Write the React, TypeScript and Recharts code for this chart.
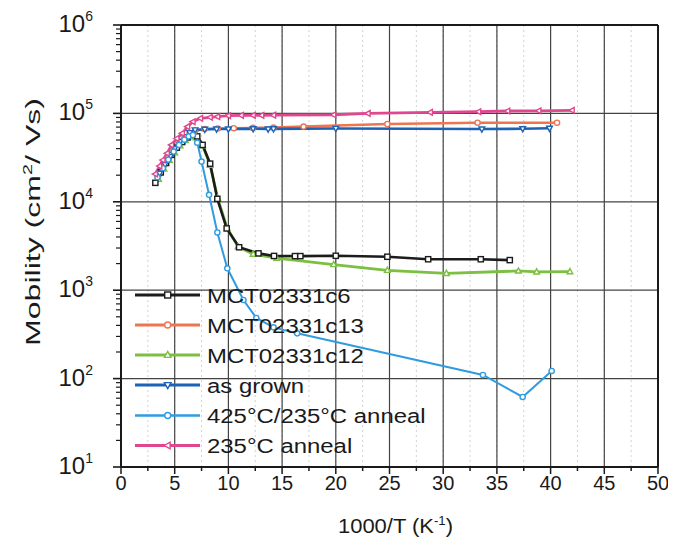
import React from 'react';
import { LineChart, Line, XAxis, YAxis, CartesianGrid, ReferenceLine, Legend } from 'recharts';

type Pt = { x: number; y: number };
const toPts = (rows: number[][]): Pt[] => rows.map(([x, y]) => ({ x, y }));

// Hall mobility vs inverse temperature, one array per sample
const mct02331c6 = toPts([
  [3.2, 16400], [3.7, 21500], [4.2, 27500], [4.7, 34000], [5.2, 41000], [5.7, 47500],
  [6.2, 53500], [6.7, 57500], [7.1, 55000], [7.6, 44000], [8.3, 27000], [8.97, 10800],
  [9.84, 5000], [11.0, 3060], [12.8, 2610], [14.25, 2440], [16.2, 2430], [16.7, 2430],
  [20.0, 2450], [24.8, 2390], [28.6, 2240], [33.5, 2240], [36.2, 2190],
]);

const mct02331c13 = toPts([
  [3.4, 19500], [3.9, 25000], [4.4, 31500], [4.9, 38500], [5.4, 46000], [5.9, 53000],
  [6.4, 59000], [6.9, 63500], [7.8, 66500], [9.0, 67500], [10.5, 68000], [12.3, 68500],
  [14.2, 69000], [17.0, 71000], [24.8, 75900], [33.2, 78500], [40.6, 78500],
]);

const mct02331c12 = toPts([
  [3.5, 18000], [4.0, 23500], [4.5, 29500], [5.0, 36000], [5.5, 43000], [6.0, 49500],
  [6.5, 54500], [7.0, 53000], [7.6, 43000], [8.3, 26000], [9.0, 11000], [9.9, 5000],
  [10.9, 3100], [12.3, 2560], [14.5, 2300], [19.8, 1950], [24.8, 1680], [30.3, 1550],
  [37.0, 1650], [38.7, 1610], [41.8, 1620],
]);

const asGrown = toPts([
  [3.6, 21000], [4.1, 26500], [4.6, 32500], [5.0, 40000], [5.5, 48000], [6.0, 54500],
  [6.4, 60500], [6.9, 64900], [7.8, 66000], [8.9, 66500], [10.0, 66500], [12.3, 67000],
  [13.7, 66500], [14.2, 66800], [20.0, 67500], [33.6, 66500], [37.4, 67000], [39.9, 67800],
]);

const anneal425 = toPts([
  [3.4, 19000], [3.9, 24000], [4.4, 30000], [4.9, 37000], [5.4, 44000], [5.9, 50500],
  [6.3, 55000], [6.7, 57000], [7.1, 46700], [7.5, 28500], [8.2, 12000], [8.97, 4500],
  [9.9, 1770], [11.4, 775], [12.6, 485], [14.2, 380], [16.4, 325], [33.7, 110],
  [37.4, 62], [40.1, 122],
]);

const anneal235 = toPts([
  [3.2, 20600], [3.6, 25400], [3.9, 29700], [4.3, 35400], [4.7, 44000], [5.2, 52000],
  [5.7, 59500], [6.2, 70800], [6.7, 80500], [7.4, 88000], [8.3, 90300], [9.0, 91900],
  [10.0, 94200], [11.2, 95000], [12.3, 95000], [13.1, 95000], [14.2, 95500], [19.8, 96500],
  [23.0, 100000], [28.8, 102800], [33.3, 104500], [36.0, 106400], [38.9, 107000], [42.0, 108400],
]);

// Axis ticks
const xTicks = [0, 2.5, 5, 7.5, 10, 12.5, 15, 17.5, 20, 22.5, 25, 27.5, 30, 32.5, 35, 37.5, 40, 42.5, 45, 47.5, 50];
const xGrid = [5, 10, 15, 20, 25, 30, 35, 40, 45];
const yDecades = [10, 100, 1000, 10000, 100000, 1000000];
const yGrid = [100, 1000, 10000, 100000];
const yTicks = yDecades.flatMap((d) => (d < 1000000 ? [1, 2, 3, 4, 5, 6, 7, 8, 9].map((m) => m * d) : [d]));

type Shape = 'square' | 'circle' | 'triangle' | 'down' | 'left';
type Series = { name: string; data: Pt[]; color: string; shape: Shape; width: number };

const sC6: Series = { name: 'MCT02331c6', data: mct02331c6, color: '#1c1c1c', shape: 'square', width: 2.6 };
const sC13: Series = { name: 'MCT02331c13', data: mct02331c13, color: '#ee7452', shape: 'circle', width: 2.6 };
const sC12: Series = { name: 'MCT02331c12', data: mct02331c12, color: '#7cbf42', shape: 'triangle', width: 2.8 };
const sGrown: Series = { name: 'as grown', data: asGrown, color: '#1d62b5', shape: 'down', width: 2.6 };
const s425: Series = { name: '425°C/235°C anneal', data: anneal425, color: '#2f9be0', shape: 'circle', width: 2.0 };
const s235: Series = { name: '235°C anneal', data: anneal235, color: '#e0478e', shape: 'left', width: 2.8 };

const legendOrder = [sC6, sC13, sC12, sGrown, s425, s235];
const drawOrder = [sC12, sC6, sC13, sGrown, s425, s235];

const FONT = '"Liberation Sans", Arial, Helvetica, sans-serif';
const INK = '#1a1a1a';

function Marker({ cx, cy, shape, color, s = 2.6 }: { cx: number; cy: number; shape: Shape; color: string; s?: number }) {
  const common = { fill: '#ffffff', stroke: color, strokeWidth: 1.4 };
  if (shape === 'square') return <rect x={cx - s} y={cy - s} width={2 * s} height={2 * s} {...common} />;
  if (shape === 'circle') return <circle cx={cx} cy={cy} r={s} {...common} />;
  if (shape === 'triangle')
    return <polygon points={`${cx},${cy - s * 1.2} ${cx + s * 1.1},${cy + s * 0.8} ${cx - s * 1.1},${cy + s * 0.8}`} {...common} />;
  if (shape === 'down')
    return <polygon points={`${cx},${cy + s * 1.2} ${cx + s * 1.1},${cy - s * 0.8} ${cx - s * 1.1},${cy - s * 0.8}`} {...common} />;
  return <polygon points={`${cx - s * 1.2},${cy} ${cx + s * 0.8},${cy - s * 1.1} ${cx + s * 0.8},${cy + s * 1.1}`} {...common} />;
}

const XTick = (props: any) => {
  const { x, y, payload } = props;
  const v = payload.value as number;
  const major = v % 5 === 0;
  return (
    <g>
      <line x1={x} x2={x} y1={y} y2={y + (major ? 7 : 4)} stroke={INK} strokeWidth={1.5} />
      {major && (
        <text x={x} y={y + 23} textAnchor="middle" fontSize={20} fontFamily={FONT} fill={INK}>
          {v}
        </text>
      )}
    </g>
  );
};

const YTick = (props: any) => {
  const { x, y, payload } = props;
  const v = payload.value as number;
  const e = Math.round(Math.log10(v));
  const major = Math.abs(v - Math.pow(10, e)) < v * 1e-6;
  return (
    <g>
      <line x1={x - (major ? 8 : 5)} x2={x} y1={y} y2={y} stroke={INK} strokeWidth={major ? 1.6 : 1.2} />
      {major && (
        <text x={x - 28} y={y + 7} textAnchor="end" fontSize={24} fontFamily={FONT} fill={INK}>
          10
          <tspan dy={-11} fontSize={14}>
            {e}
          </tspan>
        </text>
      )}
    </g>
  );
};

const XTitle = (props: any) => {
  const vb = props.viewBox || { x: 113, y: 459, width: 537 };
  return (
    <text
      x={vb.x + vb.width / 2 + 6}
      y={vb.y + 66}
      textAnchor="middle"
      fontSize={20}
      fontFamily={FONT}
      fill={INK}
      textLength={115}
      lengthAdjust="spacingAndGlyphs"
    >
      1000/T (K
      <tspan dy={-8} fontSize={12}>
        -1
      </tspan>
      <tspan dy={8}>)</tspan>
    </text>
  );
};

const YTitle = () => (
  <text
    x={0}
    y={0}
    transform="translate(32, 214) rotate(-90)"
    textAnchor="middle"
    fontSize={21}
    fontFamily={FONT}
    fill={INK}
    textLength={248}
    lengthAdjust="spacingAndGlyphs"
  >
    Mobility (cm
    <tspan dy={-8} fontSize={13}>
      2
    </tspan>
    <tspan dy={8}>/ Vs)</tspan>
  </text>
);

const LegendBox = () => {
  const rowY = [17, 47, 77, 107, 137.5, 167.5];
  return (
    <svg width={320} height={190} style={{ overflow: 'visible' }}>
      {legendOrder.map((s, i) => (
        <g key={s.name}>
          <line x1={7} x2={72} y1={rowY[i]} y2={rowY[i]} stroke={s.color} strokeWidth={s.width + 0.4} />
          <Marker cx={39.7} cy={rowY[i]} shape={s.shape} color={s.color} s={3} />
          <text
            transform={`translate(79, ${rowY[i] + 7.5}) scale(1.14, 1)`}
            fontSize={21}
            fontFamily={FONT}
            fill={INK}
          >
            {s.name}
          </text>
        </g>
      ))}
    </svg>
  );
};

export default function App() {
  return (
    <div style={{ width: 660, height: 529 }}>
      <LineChart width={660} height={529} margin={{ top: 17, right: 10, left: 0, bottom: 20 }} style={{ overflow: 'visible' }}>
        <CartesianGrid horizontal={false} stroke="#d2d2d2" strokeDasharray="2 3" />
        <XAxis
          type="number"
          dataKey="x"
          domain={[0, 50]}
          ticks={xTicks}
          interval={0}
          height={50}
          tickSize={0}
          tickMargin={0}
          tickLine={false}
          tick={<XTick />}
          axisLine={{ stroke: INK, strokeWidth: 2 }}
          label={<XTitle />}
        />
        <YAxis
          type="number"
          scale="log"
          domain={[10, 1000000]}
          ticks={yTicks}
          interval={0}
          width={113}
          tickSize={0}
          tickMargin={0}
          tickLine={false}
          tick={<YTick />}
          axisLine={{ stroke: INK, strokeWidth: 2 }}
          allowDataOverflow
          label={<YTitle />}
        />
        {xGrid.map((v) => (
          <ReferenceLine key={`gx${v}`} x={v} stroke="#444444" strokeWidth={1.2} />
        ))}
        {yGrid.map((v) => (
          <ReferenceLine key={`gy${v}`} y={v} stroke="#444444" strokeWidth={1.2} />
        ))}
        <ReferenceLine x={50} stroke={INK} strokeWidth={2} />
        <ReferenceLine y={1000000} stroke={INK} strokeWidth={2} />
        {drawOrder.map((s) => (
          <Line
            key={s.name}
            name={s.name}
            data={s.data}
            dataKey="y"
            type="linear"
            stroke={s.color}
            strokeWidth={s.width}
            isAnimationActive={false}
            dot={(p: any) => <Marker key={`${s.name}-${p.index}`} cx={p.cx} cy={p.cy} shape={s.shape} color={s.color} />}
            activeDot={false}
          />
        ))}
        <Legend
          layout="vertical"
          align="center"
          verticalAlign="middle"
          wrapperStyle={{ left: 120, top: 270, width: 320, height: 190 }}
          content={<LegendBox />}
        />
      </LineChart>
    </div>
  );
}
